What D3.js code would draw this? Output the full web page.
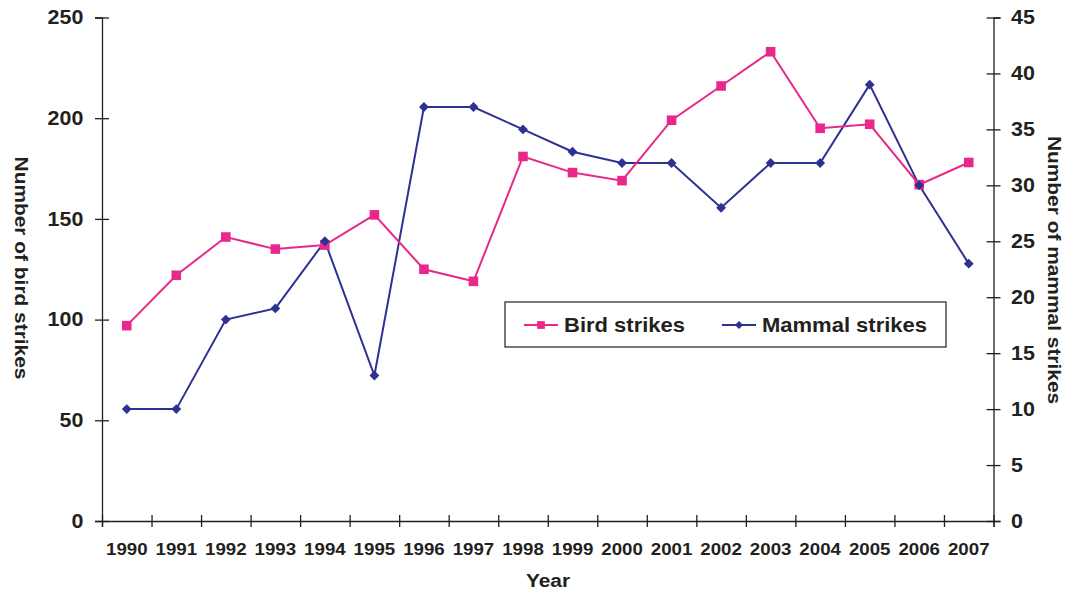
<!DOCTYPE html>
<html>
<head>
<meta charset="utf-8">
<script src="https://cdn.jsdelivr.net/npm/d3@7"></script>
<style>
  body { margin: 0; background: #fff; }
  svg text { font-family: "Liberation Sans", Arial, sans-serif; font-weight: bold; fill: #231f20; }
</style>
</head>
<body>
<svg id="chart" width="1078" height="592"></svg>
<script>
const years = ["1990","1991","1992","1993","1994","1995","1996","1997","1998","1999",
               "2000","2001","2002","2003","2004","2005","2006","2007"];
const birdStrikes   = [97, 122, 141, 135, 137, 152, 125, 119, 181, 173, 169, 199, 216, 233, 195, 197, 167, 178];
const mammalStrikes = [10, 10, 18, 19, 25, 13, 37, 37, 35, 33, 32, 32, 28, 32, 32, 39, 30, 23];
const leftTicks  = [0, 50, 100, 150, 200, 250];
const rightTicks = [0, 5, 10, 15, 20, 25, 30, 35, 40, 45];

const PINK = "#e8298b";
const NAVY = "#2e3192";
const INK = "#231f20";
const STRETCH = "scale(1.1,1)";

const margin = { left: 102, right: 1078 - 993.5, top: 17.5, bottom: 592 - 521 };
const width = 1078 - margin.left - margin.right;
const height = 592 - margin.top - margin.bottom;

const svg = d3.select("#chart");
const g = svg.append("g").attr("transform", `translate(${margin.left},${margin.top})`);

const x = d3.scaleBand().domain(years).range([0, width]);
const xEdge = d3.scaleLinear().domain([0, years.length]).range([0, width]);
const yL = d3.scaleLinear().domain([0, 250]).range([height, 0]);
const yR = d3.scaleLinear().domain([0, 45]).range([height, 0]);

function crossTicks(sel, horizontal) {
  sel.select(".domain").attr("stroke", INK).attr("stroke-width", 1.3);
  sel.selectAll(".tick line").attr("stroke", INK).attr("stroke-width", 1.3);
  if (horizontal) sel.selectAll(".tick line").attr("x1", -7).attr("x2", 7);
  else sel.selectAll(".tick line").attr("y1", -6).attr("y2", 6);
}

// left axis
const axL = g.append("g")
  .call(d3.axisLeft(yL).tickValues(leftTicks).tickSizeOuter(0).tickSize(7).tickPadding(10));
crossTicks(axL, true);
axL.selectAll(".tick text").attr("font-size", 19.5).attr("fill", INK).attr("transform", STRETCH);

// right axis
const axR = g.append("g").attr("transform", `translate(${width},0)`)
  .call(d3.axisRight(yR).tickValues(rightTicks).tickSizeOuter(0).tickSize(7).tickPadding(9));
crossTicks(axR, true);
axR.selectAll(".tick text").attr("font-size", 19.5).attr("fill", INK).attr("transform", STRETCH);

// bottom axis: ticks on category edges, labels on centers
const axB = g.append("g").attr("transform", `translate(0,${height})`)
  .call(d3.axisBottom(xEdge).ticks(years.length).tickFormat("").tickSizeOuter(0).tickSize(6));
crossTicks(axB, false);

g.append("g").selectAll("text").data(years).join("text")
  .attr("transform", d => `translate(${x(d) + x.bandwidth() / 2},${height + 34}) ${STRETCH}`)
  .attr("text-anchor", "middle")
  .attr("font-size", 17)
  .text(d => d);

// axis titles
svg.append("text")
  .attr("transform", `translate(${548},${587}) ${STRETCH}`)
  .attr("text-anchor", "middle").attr("font-size", 19).text("Year");
svg.append("text")
  .attr("transform", `translate(${15},${268}) rotate(90) ${STRETCH}`)
  .attr("text-anchor", "middle").attr("font-size", 19).text("Number of bird strikes");
svg.append("text")
  .attr("transform", `translate(${1048},${270}) rotate(90) ${STRETCH}`)
  .attr("text-anchor", "middle").attr("font-size", 19).text("Number of mammal strikes");

// lines
const cx = (d, i) => x(years[i]) + x.bandwidth() / 2;
const birdLine = d3.line().x(cx).y(d => yL(d));
const mammalLine = d3.line().x(cx).y(d => yR(d));

g.append("path").datum(mammalStrikes)
  .attr("d", mammalLine).attr("fill", "none").attr("stroke", NAVY).attr("stroke-width", 2);
g.append("path").datum(birdStrikes)
  .attr("d", birdLine).attr("fill", "none").attr("stroke", PINK).attr("stroke-width", 2);

const square = d3.symbol().type(d3.symbolSquare).size(92);
const diamond = d3.symbol().type(d3.symbolDiamond2).size(62);

g.append("g").selectAll("path").data(birdStrikes).join("path")
  .attr("transform", (d, i) => `translate(${cx(d, i)},${yL(d)})`)
  .attr("d", square).attr("fill", PINK);
g.append("g").selectAll("path").data(mammalStrikes).join("path")
  .attr("transform", (d, i) => `translate(${cx(d, i)},${yR(d)})`)
  .attr("d", diamond).attr("fill", NAVY);

// legend
const lg = svg.append("g");
lg.append("rect").attr("x", 505).attr("y", 302).attr("width", 441).attr("height", 45)
  .attr("fill", "#fff").attr("stroke", INK).attr("stroke-width", 1.2);

const legendItems = [
  { label: "Bird strikes", color: PINK, sym: d3.symbol().type(d3.symbolSquare).size(60), x0: 524 },
  { label: "Mammal strikes", color: NAVY, sym: d3.symbol().type(d3.symbolDiamond2).size(42), x0: 722 },
];
legendItems.forEach(it => {
  lg.append("line").attr("x1", it.x0).attr("x2", it.x0 + 34).attr("y1", 325).attr("y2", 325)
    .attr("stroke", it.color).attr("stroke-width", 2);
  lg.append("path").attr("transform", `translate(${it.x0 + 17},325)`).attr("d", it.sym).attr("fill", it.color);
  lg.append("text").attr("transform", `translate(${it.x0 + 40},332) ${STRETCH}`)
    .attr("font-size", 20).text(it.label);
});
</script>
</body>
</html>
